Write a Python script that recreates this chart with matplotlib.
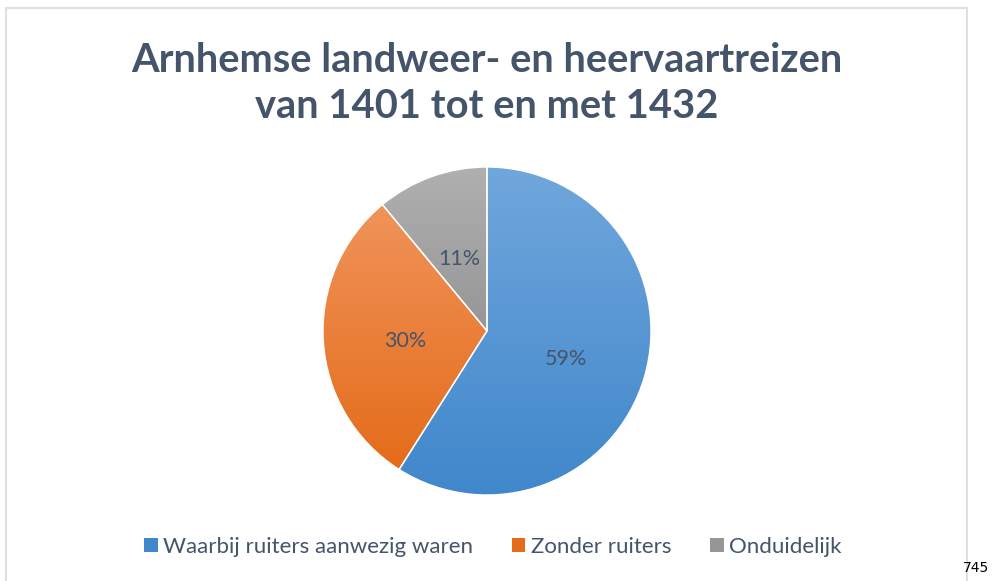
import numpy as np
import matplotlib
matplotlib.use('Agg')
import matplotlib.pyplot as plt
from matplotlib.patches import Rectangle, Patch
from matplotlib.colors import LinearSegmentedColormap

TITLE = 'Arnhemse landweer- en heervaartreizen\nvan 1401 tot en met 1432'
LABELS = ['Waarbij ruiters aanwezig waren', 'Zonder ruiters', 'Onduidelijk']
VALUES = [59, 30, 11]
TOP_COLORS = ['#70A7DC', '#F0935A', '#B0B0B0']
BOTTOM_COLORS = ['#4087CB', '#E46C1A', '#969696']
TEXT_COLOR = '#44546A'

W, H = 992, 581
fig = plt.figure(figsize=(W / 100, H / 100), dpi=100)

# chart frame
fig.patches.append(Rectangle((6 / W, -0.01), (967 - 6) / W, 1 - 8 / H + 0.01,
                             transform=fig.transFigure, fill=False,
                             edgecolor='#DDE1E6', linewidth=1.5))

cx, cy, r = 487, 331, 164
ax = fig.add_axes([(cx - r) / W, 1 - (cy + r) / H, 2 * r / W, 2 * r / H])

wedges, texts, autotexts = ax.pie(
    VALUES, startangle=90, counterclock=False, autopct='%1.0f%%',
    pctdistance=0.5, wedgeprops=dict(linewidth=1, edgecolor='white'),
    textprops=dict(color=TEXT_COLOR, fontsize=15.5, family='Lato'))

# vertical gradient per slice
for w, top, bot in zip(wedges, TOP_COLORS, BOTTOM_COLORS):
    w.set_facecolor('none')
    ext = w.get_path().get_extents(w.get_patch_transform())
    cmap = LinearSegmentedColormap.from_list('g', [bot, top])
    grad = np.linspace(0, 1, 256).reshape(-1, 1)
    im = ax.imshow(grad, cmap=cmap, origin='lower', aspect='auto',
                   extent=[ext.x0, ext.x1, ext.y0, ext.y1], zorder=0.5)
    im.set_clip_path(w)
    w.set_zorder(1)
for t in autotexts:
    t.set_zorder(3)
    x, y = t.get_position()
    t.set_position((x, y - 0.03))

ax.set_xlim(-1, 1)
ax.set_ylim(-1, 1)
ax.axis('off')

fig.text(487 / W, 1 - 84 / H, TITLE, ha='center', va='center',
         fontsize=28.7, fontweight='bold', color=TEXT_COLOR, family='Lato',
         linespacing=1.3)

handles = [Patch(facecolor=c) for c in BOTTOM_COLORS]
fig.legend(handles, LABELS, loc='center', bbox_to_anchor=(493 / W, 1 - 547 / H),
           ncol=3, frameon=False, handlelength=0.6, handleheight=0.6,
           handletextpad=0.25, columnspacing=1.75,
           prop=dict(family='Lato', size=16), labelcolor=TEXT_COLOR)

fig.text(989 / W, 1 - 568 / H, '745', ha='right', va='center',
         fontsize=10, color='black')

fig.savefig('out.png', dpi=100)
